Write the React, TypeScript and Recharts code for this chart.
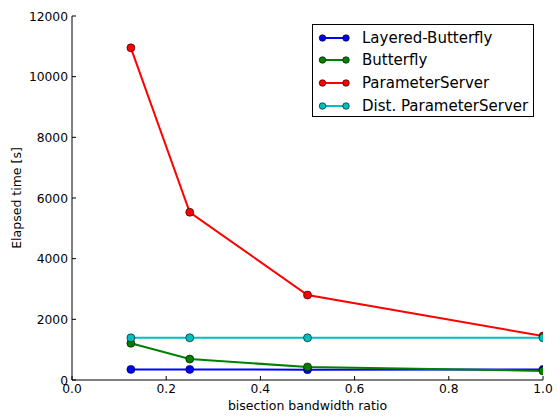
import React from 'react';
import { LineChart, Line, XAxis, YAxis } from 'recharts';

const ratios = [0.125, 0.25, 0.5, 1.0];
const layeredButterfly = [350, 350, 340, 350];
const butterfly = [1210, 690, 430, 300];
const parameterServer = [10950, 5530, 2800, 1450];
const distParameterServer = [1390, 1390, 1390, 1390];

const xTicks = [0, 0.2, 0.4, 0.6, 0.8, 1.0];
const yTicks = [0, 2000, 4000, 6000, 8000, 10000, 12000];

const seriesNames = ['Layered-Butterfly', 'Butterfly', 'ParameterServer', 'Dist. ParameterServer'];
const seriesColors = ['#0000ff', '#008000', '#ff0000', '#00bfbf'];
const seriesKeys = ['lb', 'bf', 'ps', 'dps'];

const data = ratios.map((r, i) => ({
  ratio: r,
  lb: layeredButterfly[i],
  bf: butterfly[i],
  ps: parameterServer[i],
  dps: distParameterServer[i],
}));

const FONT = '"DejaVu Sans", sans-serif';
const PLOT_TOP = 16;
const PLOT_BOTTOM = 380;
const PLOT_LEFT = 72;
const PLOT_RIGHT = 543;
const TICK = 4;

const BottomTick = (props: any) => {
  const { x, payload } = props;
  return (
    <g>
      <line x1={x} x2={x} y1={PLOT_BOTTOM} y2={PLOT_BOTTOM - TICK} stroke="#000" />
      <text x={x} y={PLOT_BOTTOM + 13} textAnchor="middle" fontSize={12.3} fontFamily={FONT} fill="#000">
        {Number(payload.value).toFixed(1)}
      </text>
    </g>
  );
};

const TopTick = (props: any) => {
  const { x } = props;
  return <line x1={x} x2={x} y1={PLOT_TOP} y2={PLOT_TOP + TICK} stroke="#000" />;
};

const LeftTick = (props: any) => {
  const { y, payload } = props;
  return (
    <g>
      <line x1={PLOT_LEFT} x2={PLOT_LEFT + TICK} y1={y} y2={y} stroke="#000" />
      <text x={PLOT_LEFT - 4} y={y + 4.5} textAnchor="end" fontSize={12.3} fontFamily={FONT} fill="#000">
        {payload.value}
      </text>
    </g>
  );
};

const RightTick = (props: any) => {
  const { y } = props;
  return <line x1={PLOT_RIGHT} x2={PLOT_RIGHT - TICK} y1={y} y2={y} stroke="#000" />;
};

function LegendBox() {
  return (
    <div
      style={{
        position: 'absolute',
        left: 312,
        top: 24,
        width: 220,
        height: 91,
        border: '1px solid #000',
        background: '#fff',
        fontFamily: FONT,
        fontSize: 15,
      }}
    >
      {seriesNames.map((name, i) => (
        <div key={name} style={{ position: 'absolute', top: 1 + i * 22.8, left: 0, height: 23, display: 'flex', alignItems: 'center', whiteSpace: 'nowrap' }}>
          <svg width={40} height={10} style={{ marginLeft: 5 }}>
            <line x1={4.5} x2={28} y1={5} y2={5} stroke={seriesColors[i]} strokeWidth={2} />
            <circle cx={4.5} cy={5} r={3.3} fill={seriesColors[i]} stroke="#000" strokeWidth={0.6} />
            <circle cx={28} cy={5} r={3.3} fill={seriesColors[i]} stroke="#000" strokeWidth={0.6} />
          </svg>
          <span style={{ marginLeft: 4 }}>{name}</span>
        </div>
      ))}
    </div>
  );
}

export default function App() {
  return (
    <div style={{ position: 'absolute', left: 0, top: 0, width: 557, height: 416, background: '#fff' }}>
      <LineChart width={557} height={416} data={data} margin={{ top: PLOT_TOP, right: 557 - PLOT_RIGHT, bottom: 0, left: 0 }}>
        <XAxis
          dataKey="ratio"
          type="number"
          domain={[0, 1]}
          ticks={xTicks}
          allowDataOverflow
          height={36}
          stroke="#000"
          tickLine={false}
          tick={<BottomTick />}
          label={{
            value: 'bisection bandwidth ratio',
            position: 'insideBottom',
            offset: 6,
            fontSize: 12.5,
            fontFamily: FONT,
            fill: '#000',
          }}
        />
        <XAxis
          xAxisId="top"
          orientation="top"
          dataKey="ratio"
          type="number"
          domain={[0, 1]}
          ticks={xTicks}
          height={0}
          stroke="#000"
          tickLine={false}
          tick={<TopTick />}
        />
        <YAxis
          domain={[0, 12000]}
          ticks={yTicks}
          width={PLOT_LEFT}
          stroke="#000"
          tickLine={false}
          tick={<LeftTick />}
          label={{
            content: () => (
              <text
                x={21}
                y={(PLOT_TOP + PLOT_BOTTOM) / 2}
                transform={`rotate(-90 21 ${(PLOT_TOP + PLOT_BOTTOM) / 2})`}
                textAnchor="middle"
                fontSize={12.5}
                fontFamily={FONT}
                fill="#000"
              >
                Elapsed time [s]
              </text>
            ),
          }}
        />
        <YAxis
          yAxisId="right"
          orientation="right"
          domain={[0, 12000]}
          ticks={yTicks}
          width={0}
          stroke="#000"
          tickLine={false}
          tick={<RightTick />}
        />
        {seriesKeys.map((k, i) => (
          <Line
            key={k}
            dataKey={k}
            name={seriesNames[i]}
            stroke={seriesColors[i]}
            strokeWidth={2}
            dot={{ r: 4, fill: seriesColors[i], stroke: '#000', strokeWidth: 0.6 }}
            isAnimationActive={false}
          />
        ))}
      </LineChart>
      <LegendBox />
    </div>
  );
}
